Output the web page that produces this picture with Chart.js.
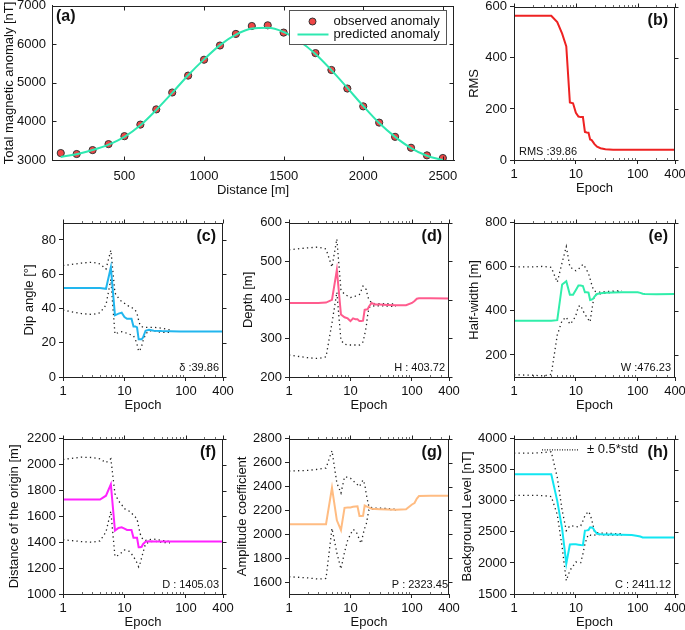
<!DOCTYPE html>
<html>
<head>
<meta charset="utf-8">
<script src="https://cdn.jsdelivr.net/npm/chart.js@4.4.1/dist/chart.umd.min.js"></script>
<style>
  body { margin: 0; background: #fff; width: 685px; height: 630px; position: relative; overflow: hidden; }
  canvas { position: absolute; }
</style>
</head>
<body>
<script>
// ---- data ----
const distance = [100,200,300,400,500,600,700,800,900,1000,1100,1200,1300,1400,1500,1600,1700,1800,1900,2000,2100,2200,2300,2400,2500];
const observed = [3180,3155,3257,3412,3618,3918,4313,4751,5189,5601,5970,6270,6476,6494,6305,6099,5773,5335,4854,4391,3970,3601,3318,3120,3051];
const predicted = [3080,3150,3260,3400,3600,3900,4300,4740,5200,5610,5980,6250,6410,6430,6320,6080,5750,5330,4870,4400,3960,3600,3310,3110,3000];

const epochs = [1,2,3,4,5,6,7,8,9,10,11,12,13,14,15,16,17,18,19,20,22,25,30,40,55,80,100,110,120,130,200,400];
const bandEpochs = [1,2,3,4,5,6,7,8,9,10,11,12,13,14,15,16,17,18,19,20,22,25,30,40,55];

const rms = [565,565,565,565,540,495,445,225,222,185,170,168,168,110,108,107,80,78,70,62,52,46,42,40.5,40,40,40,40,40,40,39.9,39.86];

const dipAngle = [52,52,52,52,51.5,64,36,37,37.5,35,34,34,34,29.5,29.5,29,22,22,22,23,27,27.5,27,26.8,26.7,26.6,26.6,26.6,26.6,26.6,26.6,26.6];
const dipUpper = [65,66.5,67,66,63,74,49,46,44,43,42,41,40.5,40,39,37,33,30,29.5,29,29,29,29,28.5,27.5];
const dipLower = [39,37,36.5,37.5,42,57,25,26,26.5,26,25.5,25,24.5,24,22,19,15,16,18,21,25,27,27,26,26];

const depth = [392,392,392,393,400,478,362,355,352,345,352,350,350,345,345,346,374,375,376,383,392,388,388,387,386,386,392,397,403,404,404,403.72];
const depthUpper = [530,535,537,532,485,558,425,415,410,406,408,410,412,414,425,436,432,427,410,400,393,390,390,390,389];
const depthLower = [257,250,248,252,340,420,295,285,283,283,283,283,283,283,287,291,310,330,360,380,385,384,385,384,383];

const halfWidth = [355,355,355,355,358,520,535,473,473,495,515,515,513,485,485,483,450,452,455,465,477,480,482,484,485,485,485,482,478,477,476,476.23];
const halfWidthUpper = [600,600,602,598,530,620,692,600,590,582,590,600,612,600,585,570,545,520,500,490,485,485,488,490,492];
const halfWidthLower = [110,108,105,112,290,357,372,340,355,380,420,425,400,387,370,360,350,400,440,470,478,478,480,485,490];

const originDist = [1730,1730,1730,1730,1760,1848,1490,1510,1515,1505,1495,1495,1495,1435,1435,1435,1362,1362,1365,1385,1405,1408,1406,1405,1405,1405,1405,1405,1405,1405,1405,1405.03];
const originUpper = [2040,2058,2055,2045,2015,2045,1775,1720,1690,1660,1650,1640,1625,1610,1595,1580,1520,1465,1440,1420,1415,1420,1425,1415,1405];
const originLower = [1420,1405,1400,1410,1480,1640,1290,1300,1320,1340,1335,1330,1310,1290,1265,1240,1210,1240,1280,1320,1390,1400,1410,1400,1395];

const amplitude = [2085,2085,2085,2085,2390,2117,2035,2222,2225,2225,2230,2233,2235,2153,2153,2155,2241,2235,2230,2225,2214,2212,2210,2207,2205,2210,2250,2262,2300,2320,2322,2323.45];
const ampUpper = [2530,2535,2545,2555,2700,2430,2345,2480,2478,2470,2450,2430,2415,2400,2430,2455,2420,2340,2280,2230,2225,2220,2220,2215,2210];
const ampLower = [1645,1635,1625,1630,2050,1845,1710,1850,1950,2000,2040,2030,2000,1950,1925,2000,2050,2080,2150,2205,2210,2210,2210,2208,2205];

const background = [3430,3430,3430,3430,3000,2550,1990,2298,2300,2300,2295,2290,2287,2521,2525,2530,2574,2570,2560,2520,2470,2462,2460,2458,2455,2450,2435,2425,2410,2410,2411,2411.12];
const bgUpper = [3770,3770,3780,3790,3380,2850,2520,2600,2595,2585,2580,2600,2680,2760,2800,2830,2780,2700,2600,2500,2490,2480,2480,2475,2470];
const bgLower = [3090,3090,3085,3070,2780,2255,1715,1880,1950,2015,2010,2005,2150,2300,2400,2460,2450,2440,2445,2450,2460,2455,2450,2450,2445];

const distanceTicks = [500,1000,1500,2000,2500];
const anomalyTicks = [3000,4000,5000,6000,7000];
const epochTicks = [1,10,100,400];
const epochMinor = [2,3,4,5,6,7,8,9,20,30,40,50,60,70,80,90,200,300];
const rmsTicks = [0,200,400,600];
const dipTicks = [0,20,40,60,80];
const depthTicks = [200,300,400,500,600];
const widthTicks = [200,400,600,800];
const originTicks = [1000,1200,1400,1600,1800,2000,2200];
const ampTicks = [1600,1800,2000,2200,2400,2600,2800];
const bgTicks = [1500,2000,2500,3000,3500,4000];

// ---- look ----
Chart.defaults.font.family = "'Liberation Sans', Arial, Helvetica, sans-serif";
Chart.defaults.font.size = 13;
Chart.defaults.color = '#1a1a1a';
Chart.defaults.animation = false;
Chart.defaults.plugins.legend.display = false;
Chart.defaults.plugins.tooltip.enabled = false;

const INK = '#222';
const FONT = "'Liberation Sans', Arial, Helvetica, sans-serif";

// frame, mirrored ticks, panel letters, annotations
const framePlugin = {
  id: 'frame',
  afterDraw(chart, args, o) {
    const { ctx, chartArea: a, scales } = chart;
    const l = Math.round(a.left) + 0.5, r = Math.round(a.right) - 0.5;
    const t = Math.round(a.top) + 0.5, b = Math.round(a.bottom) + 0.5;
    ctx.save();
    ctx.strokeStyle = INK;
    ctx.lineWidth = 1;
    ctx.strokeRect(l, t, r - l, b - t);
    ctx.beginPath();
    const d = o.inward ? -4 : 4;
    scales.y.ticks.forEach(tk => {
      const y = Math.round(scales.y.getPixelForValue(tk.value)) + 0.5;
      ctx.moveTo(r, y); ctx.lineTo(r + d, y);
      if (o.inward) { ctx.moveTo(l, y); ctx.lineTo(l + 4, y); }
    });
    scales.x.ticks.forEach(tk => {
      const x = Math.round(scales.x.getPixelForValue(tk.value)) + 0.5;
      ctx.moveTo(x, t); ctx.lineTo(x, t - d);
      if (o.inward) { ctx.moveTo(x, b); ctx.lineTo(x, b - 4); }
    });
    ctx.stroke();
    // minor log ticks, thin
    ctx.beginPath();
    ctx.lineWidth = 0.8;
    ctx.strokeStyle = '#444';
    (o.minor || []).forEach(v => {
      const x = Math.round(scales.x.getPixelForValue(v)) + 0.5;
      ctx.moveTo(x, t); ctx.lineTo(x, t - 2.5);
      ctx.moveTo(x, b); ctx.lineTo(x, b - 2.5);
    });
    ctx.stroke();

    ctx.fillStyle = '#111';
    ctx.textBaseline = 'middle';
    if (o.label) {
      ctx.font = 'bold 16px ' + FONT;
      if (o.labelLeft) { ctx.textAlign = 'left'; ctx.fillText(o.label, a.left + 4, a.top + 11); }
      else { ctx.textAlign = 'right'; ctx.fillText(o.label, a.right - 7, a.top + 14); }
    }
    if (o.stat) {
      ctx.font = '11px ' + FONT;
      if (o.statLeft) { ctx.textAlign = 'left'; ctx.fillText(o.stat, a.left + 5, a.bottom - 8); }
      else { ctx.textAlign = 'right'; ctx.fillText(o.stat, a.right - 4 + (o.statShift || 0), a.bottom - 9); }
    }
    if (o.legendA) {
      const ds = chart.data.datasets;
      const bx = Math.round(a.left + 237) + 0.5, by = Math.round(a.top + 4) + 0.5;
      ctx.fillStyle = '#fff';
      ctx.fillRect(bx, by, 157, 34);
      ctx.strokeStyle = '#555';
      ctx.lineWidth = 1;
      ctx.strokeRect(bx, by, 157, 34);
      ctx.beginPath();
      ctx.arc(bx + 23, by + 11, 3.5, 0, Math.PI * 2);
      ctx.fillStyle = ds[1].backgroundColor; ctx.fill();
      ctx.strokeStyle = ds[1].borderColor; ctx.stroke();
      ctx.beginPath();
      ctx.strokeStyle = ds[0].borderColor; ctx.lineWidth = 2;
      ctx.moveTo(bx + 8, by + 24); ctx.lineTo(bx + 39, by + 24); ctx.stroke();
      ctx.fillStyle = '#111'; ctx.font = '13px ' + FONT; ctx.textAlign = 'left';
      ctx.fillText(ds[1].label, bx + 44, by + 11);
      ctx.fillText(ds[0].label, bx + 44, by + 24);
    }
    if (o.legendStd) {
      ctx.beginPath();
      ctx.setLineDash([1, 1.5]);
      ctx.strokeStyle = INK; ctx.lineWidth = 1.3;
      ctx.moveTo(a.left + 28, a.top + 11); ctx.lineTo(a.left + 65, a.top + 11); ctx.stroke();
      ctx.setLineDash([]);
      ctx.font = '13px ' + FONT; ctx.textAlign = 'left';
      ctx.fillText('\u00B1 0.5*std', a.left + 73, a.top + 11);
    }
    ctx.restore();
  }
};

function place(box) {
  const yw = Math.round(box.ytd + 7.8), xh = Math.round(box.xtd + 7.8);
  const padTop = 9, padRight = 16;
  const w = yw + (box.R - box.L) + padRight, h = padTop + (box.B - box.T) + xh;
  const c = document.createElement('canvas');
  c.width = w; c.height = h;
  c.style.width = w + 'px'; c.style.height = h + 'px';
  c.style.left = (box.L - yw) + 'px'; c.style.top = (box.T - padTop) + 'px';
  document.body.appendChild(c);
  return { c, yw, xh, padTop, padRight };
}

function yAxis(title, min, max, ticks, yw, inward) {
  return {
    type: 'linear', position: 'left', min, max,
    title: { display: true, text: title, padding: 0, color: '#111' },
    ticks: { padding: inward ? 2 : 3, color: '#111', callback: v => String(v) },
    afterBuildTicks: s => { s.ticks = ticks.map(v => ({ value: v })); },
    afterFit: s => { s.width = yw; },
    grid: { display: !inward, drawOnChartArea: false, tickLength: 4, color: INK },
    border: { color: INK }
  };
}

function xAxis(type, title, min, max, ticks, xh, inward) {
  return {
    type, position: 'bottom', min, max,
    title: { display: true, text: title, padding: 0, color: '#111' },
    ticks: { padding: inward ? 5 : 3, color: '#111', autoSkip: false, maxRotation: 0, callback: v => String(v) },
    afterBuildTicks: s => { s.ticks = ticks.map(v => ({ value: v })); },
    afterFit: s => { s.height = xh; },
    grid: { display: !inward, drawOnChartArea: false, tickLength: 4, color: INK },
    border: { color: INK }
  };
}

const pts = (xs, ys) => ys.map((y, i) => ({ x: xs[i], y }));

// (a) observed vs predicted anomaly
(function () {
  const box = { L: 52, T: 5, R: 454, B: 160, ytd: 42, xtd: 30 };
  const p = place(box);
  new Chart(p.c, {
    type: 'scatter',
    data: {
      datasets: [
        { label: 'predicted anomaly', data: pts(distance, predicted), showLine: true, borderColor: '#2EE8B0',
          borderWidth: 2, pointRadius: 0, cubicInterpolationMode: 'monotone' },
        { label: 'observed anomaly', data: pts(distance, observed), showLine: false, backgroundColor: '#EE4646',
          borderColor: '#333', borderWidth: 1, pointRadius: 3.6 }
      ]
    },
    options: {
      responsive: false,
      layout: { padding: { top: p.padTop, right: p.padRight, left: 0, bottom: 0 } },
      scales: {
        x: xAxis('linear', 'Distance [m]', 45, 2570, distanceTicks, p.xh, true),
        y: yAxis('Total magnetic anomaly [nT]', 3000, 7000, anomalyTicks, p.yw, true)
      },
      plugins: { frame: { inward: true, label: '(a)', labelLeft: true, legendA: true } }
    },
    plugins: [framePlugin]
  });
})();

// (b) RMS
(function () {
  const box = { L: 514, T: 5, R: 675, B: 160, ytd: 39, xtd: 28 };
  const p = place(box);
  new Chart(p.c, {
    type: 'line',
    data: { datasets: [{ label: 'RMS', data: pts(epochs, rms), borderColor: '#EE2222', borderWidth: 2, pointRadius: 0 }] },
    options: {
      responsive: false,
      layout: { padding: { top: p.padTop, right: p.padRight, left: 0, bottom: 0 } },
      scales: {
        x: xAxis('logarithmic', 'Epoch', 1, 400, epochTicks, p.xh, false),
        y: yAxis('RMS', 0, 600, rmsTicks, p.yw, false)
      },
      plugins: { frame: { minor: epochMinor, label: '(b)', stat: 'RMS :39.86', statLeft: true } }
    },
    plugins: [framePlugin]
  });
})();

// (c)-(h) parameter histories with +/- 0.5*std bands
function paramPanel(box, title, min, max, ticks, values, upper, lower, color, label, stat, extra) {
  const p = place(box);
  const band = { borderColor: INK, borderWidth: 1.3, borderDash: [1.3, 3.2], pointRadius: 0 };
  new Chart(p.c, {
    type: 'line',
    data: {
      datasets: [
        { label: title, data: pts(epochs, values), borderColor: color, borderWidth: 2, pointRadius: 0 },
        Object.assign({ label: 'upper', data: pts(bandEpochs, upper) }, band),
        Object.assign({ label: 'lower', data: pts(bandEpochs, lower) }, band)
      ]
    },
    options: {
      responsive: false,
      layout: { padding: { top: p.padTop, right: p.padRight, left: 0, bottom: 0 } },
      scales: {
        x: xAxis('logarithmic', 'Epoch', 1, 400, epochTicks, p.xh, false),
        y: yAxis(title, min, max, ticks, p.yw, false)
      },
      plugins: { frame: Object.assign({ minor: epochMinor, label, stat }, extra || {}) }
    },
    plugins: [framePlugin]
  });
}

paramPanel({ L: 63, T: 221, R: 223, B: 377, ytd: 33, xtd: 28 }, 'Dip angle [\u00B0]', 0, 90, dipTicks,
  dipAngle, dipUpper, dipLower, '#22B6EE', '(c)', '\u03B4 :39.86');
paramPanel({ L: 289, T: 221, R: 449, B: 377, ytd: 40, xtd: 28 }, 'Depth [m]', 200, 600, depthTicks,
  depth, depthUpper, depthLower, '#FF5C8E', '(d)', 'H : 403.72');
paramPanel({ L: 514, T: 221, R: 675, B: 377, ytd: 39, xtd: 28 }, 'Half-width [m]', 100, 800, widthTicks,
  halfWidth, halfWidthUpper, halfWidthLower, '#30EEAA', '(e)', 'W :476.23');
paramPanel({ L: 63, T: 437, R: 223, B: 594, ytd: 48, xtd: 28 }, 'Distance of the origin [m]', 1000, 2200, originTicks,
  originDist, originUpper, originLower, '#FF22FF', '(f)', 'D : 1405.03');
paramPanel({ L: 289, T: 437, R: 449, B: 594, ytd: 46, xtd: 28 }, 'Amplitude coefficient', 1500, 2800, ampTicks,
  amplitude, ampUpper, ampLower, '#FFBC82', '(g)', 'P : 2323.45', { statShift: 3 });
paramPanel({ L: 514, T: 437, R: 675, B: 594, ytd: 46, xtd: 28 }, 'Background Level [nT]', 1500, 4000, bgTicks,
  background, bgUpper, bgLower, '#12E6F2', '(h)', 'C : 2411.12', { legendStd: true });
</script>
</body>
</html>
